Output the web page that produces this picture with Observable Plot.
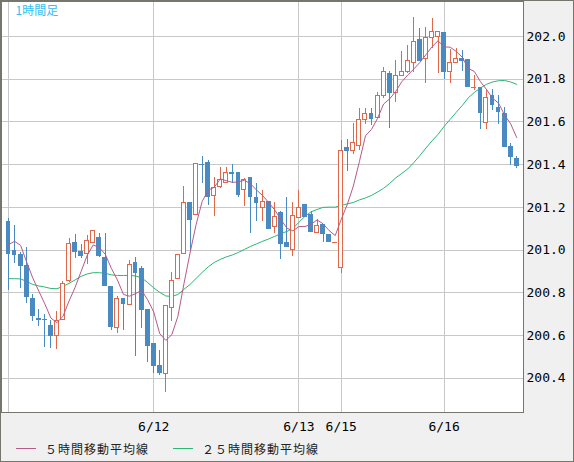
<!DOCTYPE html>
<html><head><meta charset="utf-8">
<script src="https://cdn.jsdelivr.net/npm/d3@7"></script>
<script src="https://cdn.jsdelivr.net/npm/@observablehq/plot@0.6"></script>
<style>
html,body{margin:0;padding:0;background:#fff;}
#wrap{position:relative;width:574px;height:462px;box-sizing:border-box;border:1px solid #76766e;background:#f0f0f0;overflow:hidden;}
#chart svg{display:block;}
#legend{position:relative;height:24px;font-family:"Noto Sans CJK JP";font-size:12px;letter-spacing:1px;color:#222;}
.item{position:absolute;top:0;height:22px;display:flex;align-items:center;white-space:nowrap;}
.sw{display:inline-block;width:20px;height:1px;margin-right:9px;}
</style></head><body>
<div id="wrap"><div id="chart"></div><div id="legend"></div></div>
<script>
const title = "1時間足";
const legendLabels = ["５時間移動平均線", "２５時間移動平均線"];
const yTicks = [200.4, 200.6, 200.8, 201.0, 201.2, 201.4, 201.6, 201.8, 202.0];
const gridIdx = [1, 25, 49, 56, 73];
const tickIdx = [25, 49, 56, 73];
const tickLabels = ["6/12", "6/13", "6/15", "6/16"];

const open = [201.134,200.998,200.980,200.928,200.772,200.679,200.675,200.647,200.599,200.674,
200.855,201.036,200.994,200.981,201.034,201.061,200.967,200.831,200.636,200.775,
200.744,200.942,200.914,200.722,200.563,200.460,200.418,200.730,200.864,200.983,
201.222,201.166,201.401,201.410,201.251,201.295,201.315,201.362,201.362,201.283,
201.339,201.245,201.196,201.229,201.108,201.175,201.034,201.002,201.150,201.214,
201.167,201.079,201.120,201.073,201.036,200.915,201.482,201.463,201.485,201.610,
201.638,201.620,201.723,201.826,201.737,201.813,201.833,201.877,201.986,201.896,
201.991,201.997,202.019,201.833,201.877,201.896,201.893,201.760,201.760,201.594,
201.724,201.669,201.641,201.485,201.428];
const high = [201.147,201.115,200.989,201.014,200.792,200.722,200.697,200.671,200.713,200.853,
201.053,201.072,201.025,201.069,201.093,201.077,201.077,200.831,200.783,200.775,
200.950,200.966,200.924,200.722,200.563,200.529,200.736,200.895,200.978,201.298,
201.222,201.401,201.439,201.420,201.342,201.386,201.388,201.400,201.362,201.336,
201.339,201.314,201.279,201.229,201.225,201.181,201.245,201.225,201.279,201.214,
201.182,201.142,201.120,201.073,201.036,201.513,201.517,201.592,201.665,201.665,
201.663,201.737,201.857,201.837,201.888,201.932,201.958,202.088,202.037,202.044,
202.085,202.022,202.019,201.940,201.943,201.935,201.893,201.818,201.760,201.751,
201.752,201.724,201.669,201.501,201.439];
const low = [200.811,200.936,200.822,200.752,200.666,200.644,200.546,200.541,200.533,200.674,
200.847,200.960,200.960,200.931,201.034,200.964,200.831,200.624,200.611,200.624,
200.744,200.503,200.635,200.475,200.421,200.413,200.335,200.666,200.863,200.983,
200.998,201.166,201.311,201.211,201.158,201.290,201.315,201.311,201.248,201.204,
201.077,201.134,201.134,201.097,201.077,200.955,201.014,200.970,201.150,201.152,
201.081,201.077,201.037,201.034,201.036,200.889,201.370,201.448,201.467,201.587,
201.584,201.615,201.709,201.568,201.690,201.813,201.826,201.830,201.885,201.779,
201.944,201.826,201.798,201.782,201.873,201.838,201.763,201.748,201.564,201.564,
201.654,201.588,201.482,201.396,201.381];
const close = [200.981,200.975,200.925,200.780,200.691,200.672,200.672,200.597,200.666,200.842,
201.030,200.990,200.970,201.041,201.087,200.972,200.831,200.639,200.772,200.746,
200.931,200.891,200.719,200.550,200.457,200.421,200.736,200.857,200.978,201.222,
201.139,201.401,201.395,201.245,201.292,201.329,201.362,201.356,201.257,201.329,
201.245,201.217,201.225,201.097,201.154,201.027,201.014,201.158,201.198,201.152,
201.081,201.114,201.072,201.034,201.036,201.462,201.463,201.503,201.610,201.638,
201.612,201.723,201.835,201.732,201.815,201.835,201.883,201.976,201.885,201.994,
202.022,202.022,201.833,201.877,201.896,201.885,201.763,201.760,201.641,201.713,
201.679,201.646,201.482,201.435,201.392];
const ma5 = [201.025,201.041,201.022,200.944,200.870,200.808,200.748,200.682,200.660,200.690,
200.761,200.825,200.900,200.975,201.024,201.012,200.980,200.914,200.860,200.792,
200.784,200.796,200.812,200.767,200.710,200.608,200.577,200.604,200.690,200.843,
200.986,201.119,201.227,201.280,201.294,201.333,201.325,201.317,201.319,201.327,
201.310,201.281,201.255,201.223,201.188,201.144,201.103,201.090,201.110,201.110,
201.121,201.141,201.123,201.091,201.068,201.144,201.214,201.300,201.415,201.535,
201.565,201.617,201.684,201.708,201.743,201.788,201.820,201.848,201.879,201.915,
201.952,201.980,201.951,201.950,201.930,201.903,201.851,201.836,201.789,201.752,
201.711,201.688,201.632,201.591,201.527];
const ma25 = [200.866,200.866,200.865,200.853,200.839,200.832,200.827,200.820,200.819,200.830,
200.844,200.860,200.877,200.888,200.894,200.894,200.891,200.884,200.881,200.881,
200.881,200.879,200.870,200.848,200.823,200.802,200.785,200.783,200.792,200.816,
200.839,200.867,200.895,200.921,200.942,200.956,200.968,200.977,200.989,201.003,
201.017,201.029,201.041,201.052,201.064,201.077,201.087,201.101,201.130,201.158,
201.179,201.190,201.200,201.201,201.201,201.209,201.216,201.223,201.235,201.244,
201.256,201.272,201.289,201.312,201.338,201.359,201.380,201.410,201.443,201.478,
201.511,201.542,201.579,201.612,201.645,201.677,201.713,201.738,201.759,201.776,
201.787,201.793,201.794,201.787,201.776];

const UP = "#e06848", DOWN = "#4a8ac3", MA5C = "#b65a88", MA25C = "#2bb673";
const candles = open.map((o, k) => ({i: k + 1, o, h: high[k], l: low[k], c: close[k], up: close[k] >= open[k]}));
const crisp = {shapeRendering: "crispEdges"};

const chart = Plot.plot({
  width: 572, height: 436,
  marginLeft: 0, marginTop: 0, marginRight: 50, marginBottom: 25,
  style: {background: "transparent", fontFamily: "DejaVu Sans Mono", fontSize: "13px", color: "#000", overflow: "visible"},
  x: {type: "linear", domain: [-0.16, 86.12]},
  y: {domain: [200.2394, 202.1639]},
  marks: [
    Plot.frame({fill: "white", stroke: null}),
    Plot.gridY(yTicks, {stroke: "#c8c8c8", strokeOpacity: 1, ...crisp}),
    Plot.gridX(gridIdx, {stroke: "#c8c8c8", strokeOpacity: 1, ...crisp}),
    Plot.line(ma25, {x: (d, k) => k + 1, y: d => d, stroke: MA25C, strokeWidth: 1}),
    Plot.ruleX(candles, {x: "i", y1: "l", y2: "h", stroke: d => d.up ? UP : DOWN, ...crisp}),
    Plot.rect(candles.filter(d => !d.up), {x1: d => d.i - 0.4, x2: d => d.i + 0.4, y1: "o", y2: "c", fill: DOWN, ...crisp}),
    Plot.rect(candles.filter(d => d.up && d.c - d.o > 0.002), {x1: d => d.i - 0.33, x2: d => d.i + 0.33, y1: "o", y2: "c", fill: "white", stroke: UP, ...crisp}),
    Plot.ruleY(candles.filter(d => Math.abs(d.c - d.o) <= 0.002), {y: "c", x1: d => d.i - 0.4, x2: d => d.i + 0.4, stroke: d => d.up ? UP : DOWN, ...crisp}),
    Plot.line(ma5, {x: (d, k) => k + 1, y: d => d, stroke: MA5C, strokeWidth: 1}),
    Plot.frame({stroke: "#76766e", ...crisp}),
    Plot.axisY(yTicks, {anchor: "right", label: null, tickSize: 0, tickPadding: 3, tickFormat: d3.format(".1f")}),
    Plot.axisX(tickIdx, {anchor: "bottom", label: null, tickSize: 0, tickPadding: 9, tickFormat: d => tickLabels[tickIdx.indexOf(d)]}),
    Plot.text([title], {frameAnchor: "top-left", lineAnchor: "middle", dx: 14, dy: 10, fill: "#38bdf0", fontFamily: "Noto Sans CJK JP", fontSize: 12})
  ]
});
document.getElementById("chart").appendChild(chart);

const legend = document.getElementById("legend");
const lefts = [15, 172];
const cols = [MA5C, MA25C];
legendLabels.forEach((t, k) => {
  const it = document.createElement("div");
  it.className = "item";
  it.style.left = lefts[k] + "px";
  const sw = document.createElement("span");
  sw.className = "sw";
  sw.style.background = cols[k];
  const tx = document.createElement("span");
  tx.textContent = t;
  it.appendChild(sw); it.appendChild(tx);
  legend.appendChild(it);
});
</script>
</body></html>
